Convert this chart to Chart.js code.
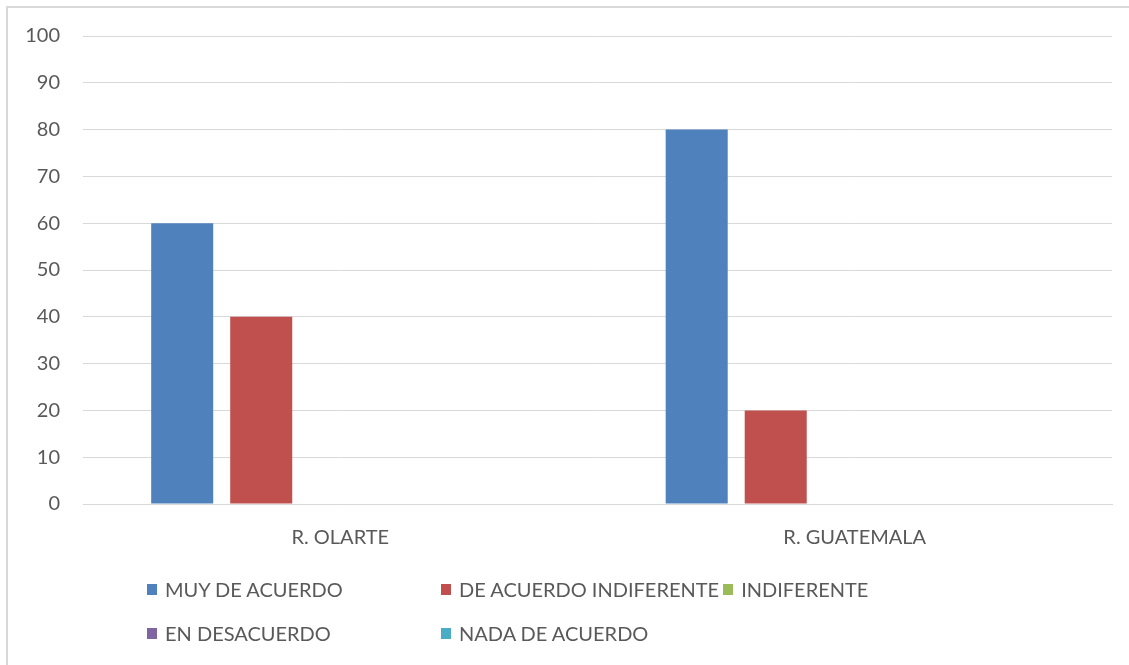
<!DOCTYPE html>
<html>
<head>
<meta charset="utf-8">
<script src="https://cdn.jsdelivr.net/npm/chart.js@4"></script>
<style>
  html,body{margin:0;padding:0;background:#fff;}
  #wrap{position:relative;width:1129px;height:665px;overflow:hidden;font-family:Lato,"Open Sans",sans-serif;}
  #frame{position:absolute;left:6px;top:6px;width:1200px;height:700px;border-left:2px solid #d9d9d9;border-top:2px solid #d9d9d9;}
  #c{position:absolute;left:0;top:0;}
  #legend{position:absolute;left:147px;top:576px;display:grid;grid-template-columns:294px auto auto;row-gap:18px;color:#595959;font-size:20px;}
  .item{display:flex;align-items:center;white-space:nowrap;height:26px;}
  .box{width:10px;height:11px;margin-right:8px;flex:none;}
</style>
</head>
<body>
<div id="wrap">
  <div id="frame"></div>
  <canvas id="c" width="1129" height="665"></canvas>
  <div id="legend"></div>
</div>
<script>
/* data */
const categories=['R. OLARTE','R. GUATEMALA'];
const seriesNames=['MUY DE ACUERDO','DE ACUERDO INDIFERENTE','INDIFERENTE','EN DESACUERDO','NADA DE ACUERDO'];
const muyDeAcuerdo=[60,80];
const deAcuerdoIndif=[40,20];
const indiferente=[0,0];
const enDesacuerdo=[0,0];
const nadaDeAcuerdo=[0,0];
const seriesColors=['#4F81BD','#C0504D','#9BBB59','#8064A2','#4BACC6'];

const allSeries=[muyDeAcuerdo,deAcuerdoIndif,indiferente,enDesacuerdo,nadaDeAcuerdo];
const FONT='Lato';

const chart=new Chart(document.getElementById('c'),{
  type:'bar',
  data:{
    labels:categories,
    datasets:allSeries.map((d,i)=>({
      label:seriesNames[i],data:d,backgroundColor:seriesColors[i],borderWidth:0,
      categoryPercentage:0.768,barPercentage:0.785
    }))
  },
  options:{
    responsive:false,animation:false,
    layout:{padding:{top:36,right:17,bottom:121,left:0}},
    plugins:{legend:{display:false},tooltip:{enabled:false}},
    scales:{
      y:{
        min:0,max:100,
        ticks:{stepSize:10,padding:23,color:'#595959',font:{family:FONT,size:20}},
        grid:{color:'#d9d9d9',drawTicks:false},
        border:{display:false},
        afterFit(s){s.width=83;}
      },
      x:{
        ticks:{padding:22,color:'#595959',font:{family:FONT,size:20}},
        grid:{display:false,drawTicks:false},
        border:{color:'#d9d9d9',width:1},
        afterFit(s){s.height=40;}
      }
    }
  }
});

/* html legend built from the datasets */
const leg=document.getElementById('legend');
chart.data.datasets.forEach((ds,i)=>{
  const it=document.createElement('div');it.className='item';
  if(i===3)it.style.gridColumn='1';
  if(i===2)it.style.marginLeft='4px';
  const b=document.createElement('span');b.className='box';b.style.background=ds.backgroundColor;
  const t=document.createElement('span');t.textContent=ds.label;
  it.appendChild(b);it.appendChild(t);leg.appendChild(it);
});
</script>
</body>
</html>
